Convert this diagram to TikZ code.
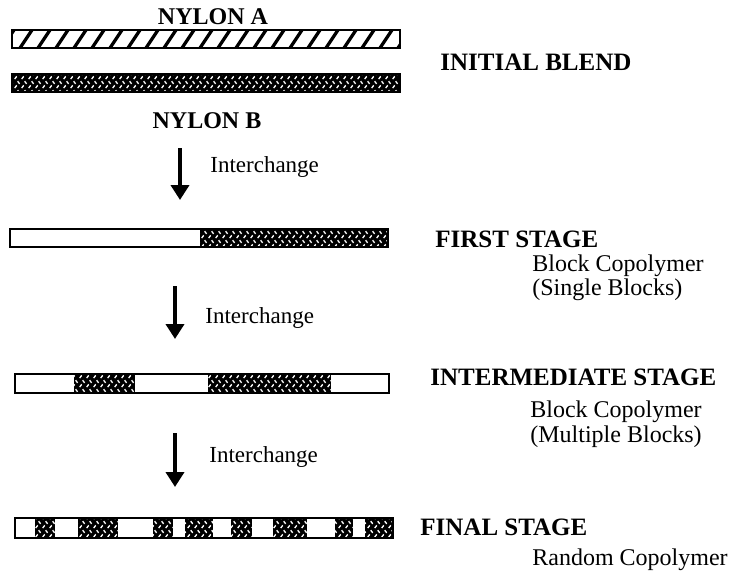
\documentclass[tikz,border=0pt]{standalone}
\usepackage{fontspec}
\setmainfont{Liberation Serif}
\usetikzlibrary{arrows.meta, patterns}
\pgfdeclarepatternformonly{woven}{\pgfqpoint{0pt}{0pt}}{\pgfqpoint{3.6pt}{4.4pt}}{\pgfqpoint{3.6pt}{4.4pt}}{%
  \pgfsetlinewidth{0.7pt}%
  \pgfpathmoveto{\pgfqpoint{0.4pt}{0.5pt}}\pgfpathlineto{\pgfqpoint{1.5pt}{1.8pt}}%
  \pgfpathmoveto{\pgfqpoint{2.0pt}{3.9pt}}\pgfpathlineto{\pgfqpoint{3.1pt}{2.6pt}}%
  \pgfusepath{stroke}}

\begin{document}
\begin{tikzpicture}[x=0.5pt, y=-0.5pt,
  barline/.style={draw, line width=0.8pt},
  darkseg/.style={fill=black, postaction={pattern=woven, pattern color=white}},
  hatch/.style={line width=1.6pt},
  flow/.style={line width=2pt, -{Triangle[length=7.5pt, width=9pt]}},
  nylonlbl/.style={anchor=base, inner sep=0pt, font=\fontsize{12}{14}\selectfont\bfseries},
  stagelbl/.style={anchor=base west, inner sep=0pt, font=\fontsize{12.5}{14}\selectfont\bfseries},
  desclbl/.style={anchor=base west, inner sep=0pt, font=\fontsize{12}{14}\selectfont},
  swaplbl/.style={anchor=base west, inner sep=0pt, font=\fontsize{11.5}{14}\selectfont}
]
  \useasboundingbox (0,0) rectangle (734,573);

  % initial blend
  \node[nylonlbl] (nylonA) at (213,25) {NYLON A};
  \begin{scope}
    \clip (12,30) rectangle (400,48);
    \foreach \x in {2,20,...,410}
      \draw[hatch] (\x,48) -- (\x+12,30);
  \end{scope}
  \draw[barline] (12,30) rectangle (400,48);
  \fill[darkseg] (12,74) rectangle (400,92);
  \draw[barline] (12,74) rectangle (400,92);
  \node[nylonlbl] (nylonB) at (207,128) {NYLON B};
  \node[stagelbl] (blend) at (440,70) {INITIAL BLEND};

  \coordinate (swap1a) at (180,148);
  \coordinate (swap1b) at (180,200);
  \draw[flow] (swap1a) -- (swap1b);
  \node[swaplbl] (swap1) at (210,172) {Interchange};

  % first stage
  \fill[darkseg] (200,229) rectangle (388,247);
  \draw[barline] (10,229) rectangle (388,247);
  \node[stagelbl] (first) at (435,247) {FIRST STAGE};
  \node[desclbl] (first1) at (532,271) {Block Copolymer};
  \node[desclbl] (first2) at (532,295) {(Single Blocks)};

  \coordinate (swap2a) at (175,286);
  \coordinate (swap2b) at (175,339);
  \draw[flow] (swap2a) -- (swap2b);
  \node[swaplbl] (swap2) at (205,323) {Interchange};

  % intermediate stage
  \foreach \a/\b in {74/135, 208/331}
    \fill[darkseg] (\a,374) rectangle (\b,393);
  \draw[barline] (15,374) rectangle (389,393);
  \node[stagelbl] (inter) at (430,385) {INTERMEDIATE STAGE};
  \node[desclbl] (inter1) at (530,417) {Block Copolymer};
  \node[desclbl] (inter2) at (530,442) {(Multiple Blocks)};

  \coordinate (swap3a) at (175,433);
  \coordinate (swap3b) at (175,487);
  \draw[flow] (swap3a) -- (swap3b);
  \node[swaplbl] (swap3) at (209,462) {Interchange};

  % final stage
  \foreach \a/\b in {35/55, 78/118, 153/173, 185/213, 231/252, 273/307, 335/353, 365/393}
    \fill[darkseg] (\a,518) rectangle (\b,538);
  \draw[barline] (15,518) rectangle (393,538);
  \node[stagelbl] (final) at (420,535) {FINAL STAGE};
  \node[desclbl] (final1) at (532,565) {Random Copolymer};
\end{tikzpicture}
\end{document}
